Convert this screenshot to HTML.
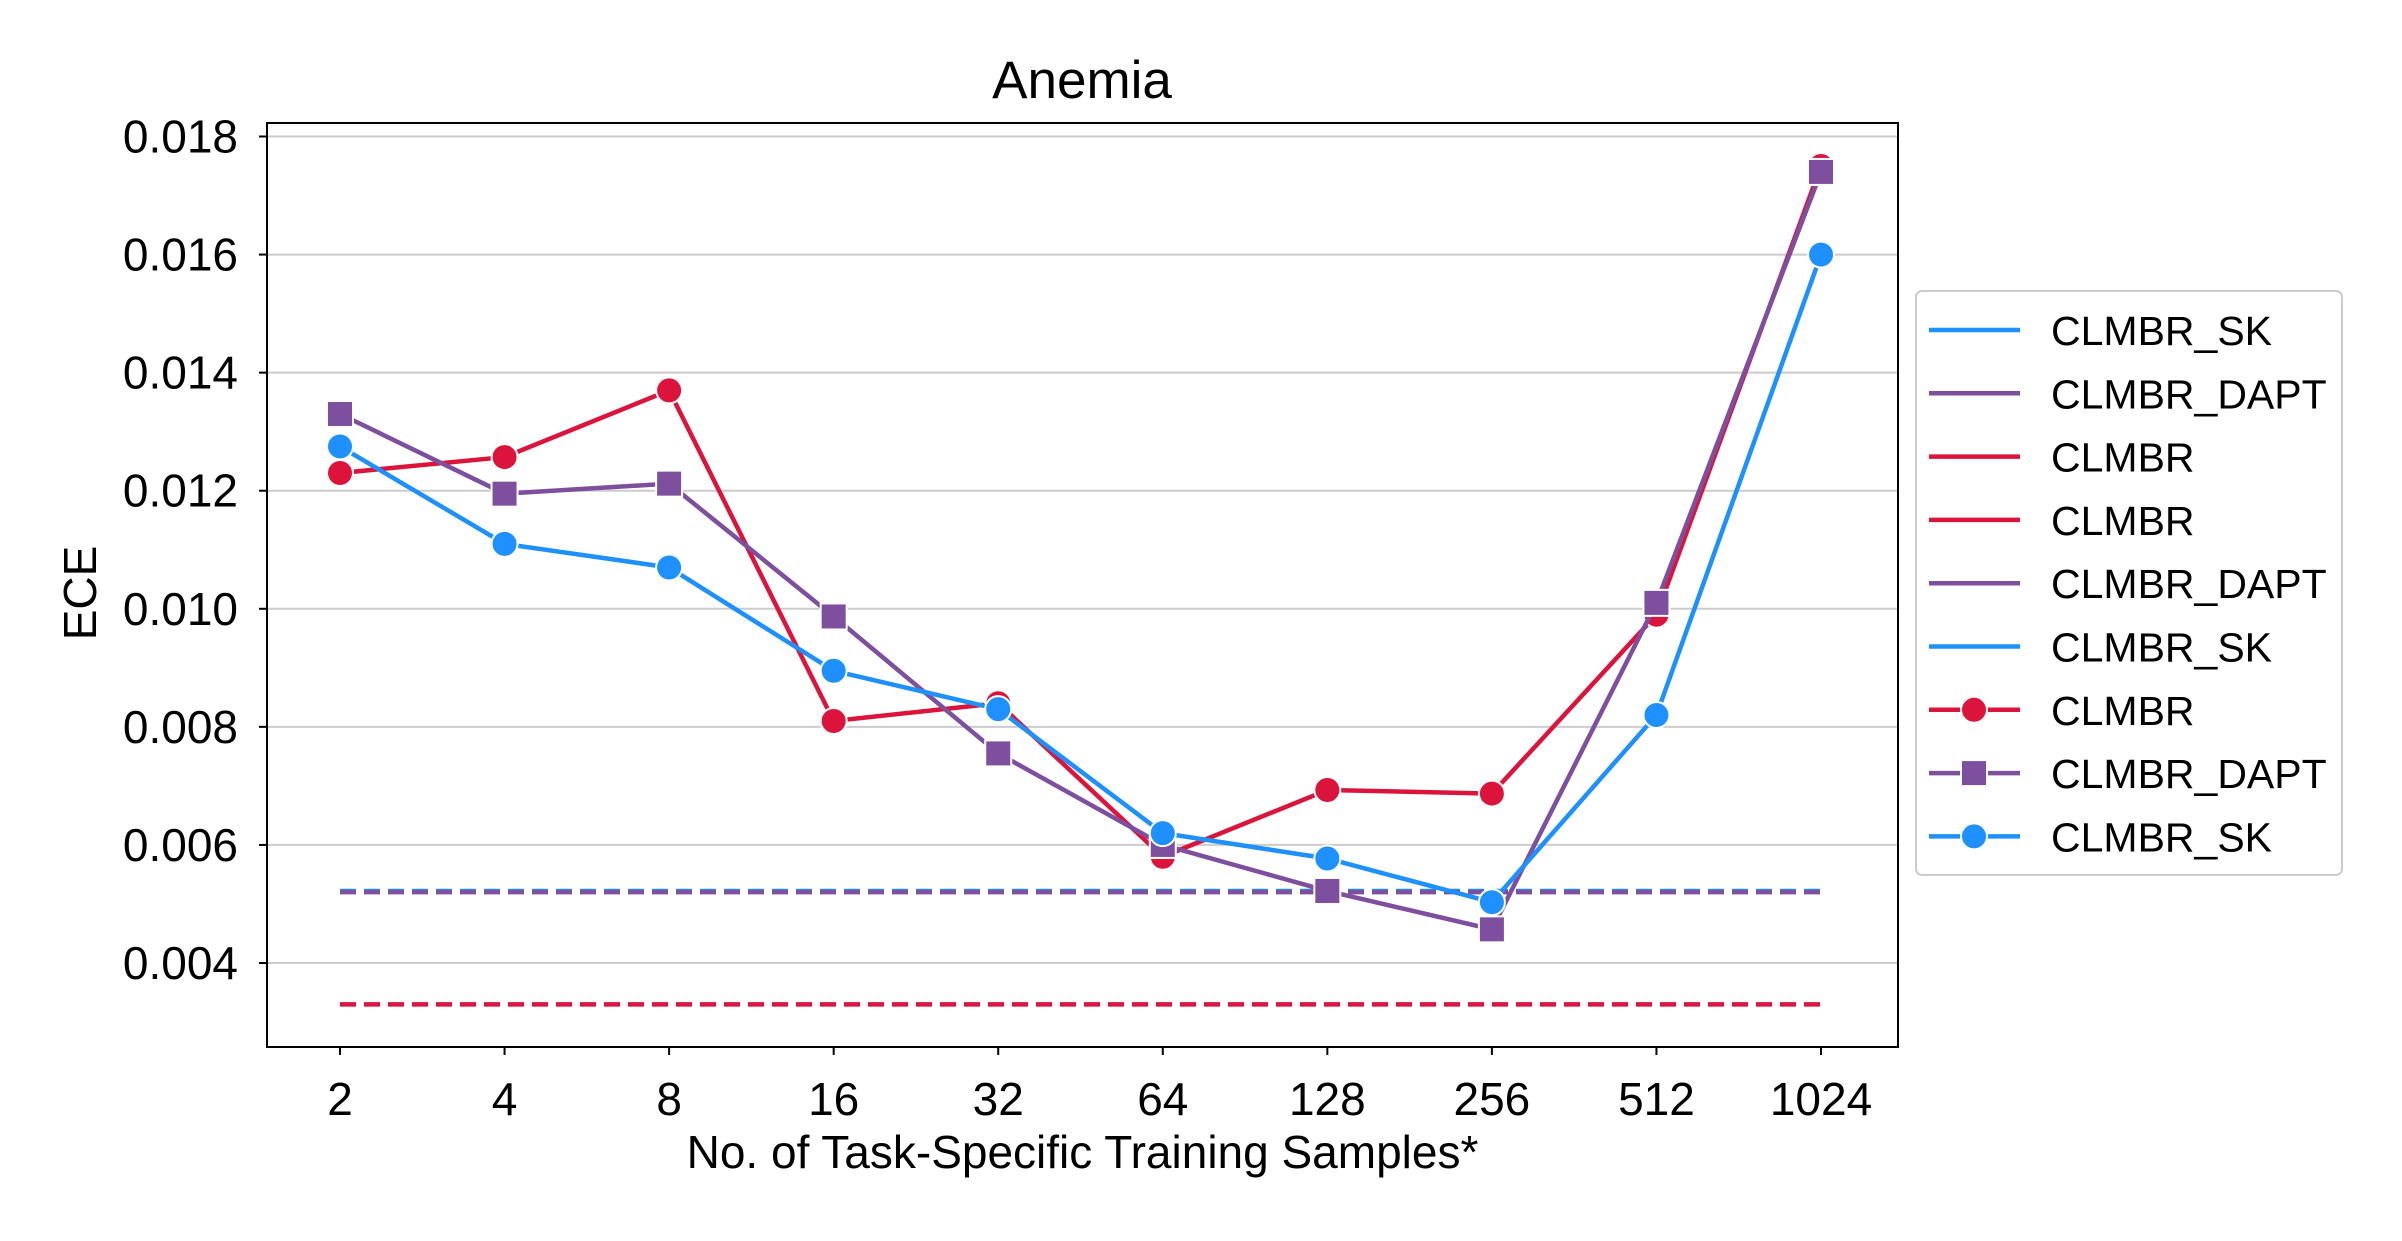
<!DOCTYPE html>
<html><head><meta charset="utf-8"><style>
body{margin:0;background:#fff}
svg text{font-family:"Liberation Sans","DejaVu Sans",sans-serif;fill:#000}
</style></head><body>
<svg id="chart" width="2402" height="1236" xmlns="http://www.w3.org/2000/svg">
<rect width="2402" height="1236" fill="#fff"/>
<text x="1082" y="98" font-size="53" text-anchor="middle">Anemia</text>
<g id="grid"></g><g id="series"></g><g id="axes"></g><g id="legend"></g>
</svg>
<script>
const categories=["2","4","8","16","32","64","128","256","512","1024"];
const clmbr=[0.0123,0.01257,0.0137,0.0081,0.0084,0.0058,0.00693,0.00687,0.0099,0.0175];
const dapt=[0.0133,0.01195,0.01212,0.00987,0.00755,0.0060,0.00522,0.00457,0.0101,0.0174];
const sk=[0.01275,0.0111,0.0107,0.00895,0.0083,0.0062,0.00577,0.00503,0.0082,0.0160];
const baselineClmbr=0.0033;
const baselineDapt=0.0052;
const baselineSk=0.00522;
const yTicks=[0.004,0.006,0.008,0.010,0.012,0.014,0.016,0.018];
const legendLabels=["CLMBR_SK","CLMBR_DAPT","CLMBR","CLMBR","CLMBR_DAPT","CLMBR_SK","CLMBR","CLMBR_DAPT","CLMBR_SK"];
const RED="#DC143C",PUR="#7D4F9E",BLU="#1E90FF";
const L=267,R=1898,T=123,B=1047;
const x=i=>340+i*(1821-340)/9;
const y=v=>963-(v-0.004)*(963-136.5)/0.014;
const NS="http://www.w3.org/2000/svg";
function mk(tag,attrs,parent){const e=document.createElementNS(NS,tag);for(const k in attrs)e.setAttribute(k,attrs[k]);parent.appendChild(e);return e;}
const grid=document.getElementById('grid'),ser=document.getElementById('series'),ax=document.getElementById('axes'),lg=document.getElementById('legend');
yTicks.forEach(v=>{
 const g=mk('line',{x1:L,x2:R,y1:y(v),y2:y(v),stroke:'#cccccc','stroke-width':2},grid);
 
 
 const t=mk('line',{x1:L-8,x2:L,y1:y(v),y2:y(v),stroke:'#000','stroke-width':2},ax);
 
 
 const tx=mk('text',{x:L-29,y:y(v)+16,'font-size':46,'text-anchor':'end'},ax);tx.textContent=v.toFixed(3);
 
 
});
categories.forEach((c,i)=>{
 const t=mk('line',{x1:x(i),x2:x(i),y1:B,y2:B+8,stroke:'#000','stroke-width':2},ax);
 
 
 const tx=mk('text',{x:x(i),y:B+68,'font-size':46,'text-anchor':'middle'},ax);tx.textContent=c;
 
 
});
const frame=mk('rect',{x:L,y:T,width:R-L,height:B-T,fill:'none',stroke:'#000','stroke-width':2},ax);


const xt=mk('text',{x:(L+R)/2,y:1168,'font-size':46,'text-anchor':'middle'},ax);xt.textContent="No. of Task-Specific Training Samples*";


const yt=mk('text',{x:0,y:0,'font-size':46,'text-anchor':'middle',transform:'translate(96,593) rotate(-90)'},ax);yt.textContent="ECE";


[[baselineClmbr,RED],[baselineSk,BLU],[baselineDapt,PUR]].forEach(([v,c])=>{
 const d=mk('line',{x1:x(0),x2:x(9),y1:y(v),y2:y(v),stroke:c,'stroke-width':4.5,'stroke-dasharray':'16,8'},ser);
 
 
});
function series(vals,c,shape,name){
 const p=mk('polyline',{points:vals.map((v,i)=>x(i)+','+y(v)).join(' '),fill:'none',stroke:c,'stroke-width':4.5},ser);
 
 
 vals.forEach((v,i)=>{
  let m;
  if(shape==='sq')m=mk('rect',{x:x(i)-13,y:y(v)-13,width:26,height:26,fill:c,stroke:'#fff','stroke-width':2},ser);
  else m=mk('circle',{cx:x(i),cy:y(v),r:13,fill:c,stroke:'#fff','stroke-width':2},ser);
  
  
 });
}
series(clmbr,RED,'c','clmbr');
series(dapt,PUR,'sq','clmbr-dapt');
series(sk,BLU,'c','clmbr-sk');
const box=mk('rect',{x:1916,y:291,width:426,height:584,rx:6,fill:'#fff',stroke:'#cccccc','stroke-width':2},lg);


const lcolors=[BLU,PUR,RED,RED,PUR,BLU,RED,PUR,BLU];
legendLabels.forEach((lab,i)=>{
 const yy=330+i*63.3;
 const l=mk('line',{x1:1929,x2:2020,y1:yy,y2:yy,stroke:lcolors[i],'stroke-width':4.5},lg);
 
 
 if(i>=6){
  let m;
  if(i===7)m=mk('rect',{x:1961,y:yy-13,width:26,height:26,fill:lcolors[i],stroke:'#fff','stroke-width':2},lg);
  else m=mk('circle',{cx:1974,cy:yy,r:13,fill:lcolors[i],stroke:'#fff','stroke-width':2},lg);
  
  
 }
 const t=mk('text',{x:2051,y:yy+15,'font-size':41},lg);t.textContent=lab;
 
 
});
</script>
</body></html>
